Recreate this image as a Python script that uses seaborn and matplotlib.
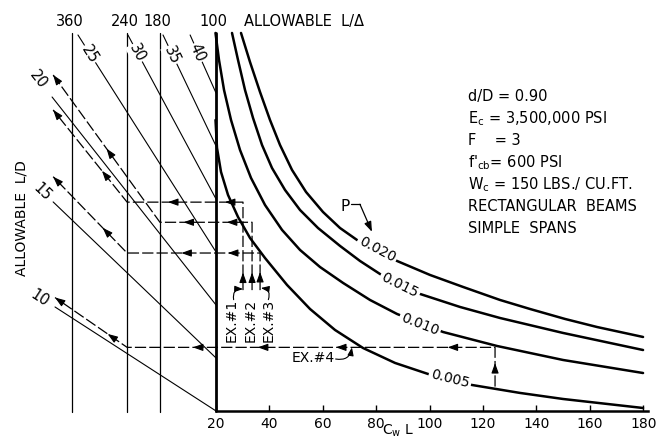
import numpy as np
import pandas as pd
import matplotlib
matplotlib.use("Agg")
import matplotlib.pyplot as plt
import seaborn as sns

# P curves: x = C_w L, y = height read on the L/D scale of the 100 line
p_values = ["0.020", "0.015", "0.010", "0.005"]
cwl_p020 = [29.36, 32.73, 36.48, 40.22, 43.97, 48.46, 53.71, 60.07, 66.44, 72.81, 80.30, 87.79,
            100.15, 112.51, 126.37, 137.60, 150.71, 162.70, 179.93]
y_p020 = [45.66, 42.92, 40.09, 37.45, 35.09, 32.74, 30.66, 28.77, 27.26, 26.13, 25.09, 24.15,
          22.83, 21.70, 20.47, 19.62, 18.68, 17.92, 16.98]
cwl_p015 = [25.99, 28.24, 30.86, 33.86, 37.23, 40.97, 45.84, 51.46, 58.20, 66.44, 73.93, 81.42,
            88.91, 96.40, 111.39, 126.37, 149.96, 179.93]
y_p015 = [45.66, 43.11, 40.28, 37.64, 35.09, 32.92, 30.85, 28.96, 27.26, 25.57, 24.15, 22.92,
          21.89, 21.04, 19.81, 18.77, 17.36, 15.75]
cwl_p010 = [19.8, 21.12, 23.00, 25.62, 28.99, 33.11, 38.35, 44.72, 51.46, 58.95, 67.57, 77.68,
            87.79, 105.02, 125.24, 149.96, 179.93]
y_p010 = [45.66, 43.11, 40.28, 37.45, 34.62, 31.98, 29.43, 27.08, 25.19, 23.58, 22.08, 20.47,
          19.15, 17.45, 16.13, 14.81, 13.58]
cwl_p005 = [19.81, 20.37, 21.87, 24.49, 28.24, 32.73, 38.35, 46.59, 55.21, 64.57, 75.06, 87.04,
            99.40, 115.88, 133.86, 149.96, 179.93]
y_p005 = [37.45, 34.81, 32.55, 30.38, 28.30, 26.32, 24.43, 21.89, 19.62, 17.64, 15.94, 14.53,
          13.49, 12.45, 11.70, 11.13, 10.28]
p_label_x = [80.3, 88.9, 96.4, 107.6]
p_label_y = [25.19, 21.89, 18.2, 13.0]

# allowable L/delta vertical scales
ldelta_vals = [360, 240, 180, 100]
ldelta_x = [-33.9, -13.3, -1.0, 20.0]

# allowable L/D lines (meet the 100 line at y = L/D)
ld_vals = [10, 15, 20, 25, 30, 35, 40]
ld_start_x = [-40.3, -41.0, -41.4, -31.7, -13.0, 0.15, 10.3]
ld_start_y = [19.81, 29.72, 39.62, 45.47, 45.47, 45.47, 45.47]
ld_label_x = [-45.9, -45.2, -46.7, -27.2, -9.6, 3.5, 12.9]
ld_label_y = [20.66, 30.66, 41.23, 43.68, 43.77, 43.58, 43.77]

# worked examples
ex_names = ["EX.#1", "EX.#2", "EX.#3", "EX.#4"]
ex_cwl = [30.1, 33.5, 36.5, 124.5]
ex_base = [21.4, 21.4, 21.4, 12.3]
ex_level = [29.7, 27.8, 24.9, 16.0]
ex_ldelta = [240, 180, 240, 240]
ex_end_x = [-41.0, -41.0, -41.0, -40.3]
ex_end_y = [38.4, 41.7, 32.1, 20.7]

notes = ["d/D = 0.90", "E$_c$ = 3,500,000 PSI", "F    = 3", "f$'_{cb}$= 600 PSI",
         "W$_c$ = 150 LBS./ CU.FT.", "RECTANGULAR  BEAMS", "SIMPLE  SPANS"]

sns.set_theme(style="white", rc={"text.color": "black", "xtick.color": "black",
                                 "axes.edgecolor": "black"})
plt.rcParams["font.family"] = ["DejaVu Sans"]
plt.rcParams["mathtext.default"] = "regular"

fig = plt.figure(figsize=(6.63, 4.47), dpi=100)
ax = fig.add_axes([0, 0, 1, 1])
ax.set_xlim(-60.9, 187.4)
ax.set_ylim(6.6, 48.77)

curves = pd.concat([
    pd.DataFrame({"cwl": cwl_p020, "y": y_p020, "P": "0.020"}),
    pd.DataFrame({"cwl": cwl_p015, "y": y_p015, "P": "0.015"}),
    pd.DataFrame({"cwl": cwl_p010, "y": y_p010, "P": "0.010"}),
    pd.DataFrame({"cwl": cwl_p005, "y": y_p005, "P": "0.005"}),
])
sns.lineplot(data=curves, x="cwl", y="y", hue="P", units="P", estimator=None, sort=False,
             palette=["black"] * 4, linewidth=1.8, legend=False, ax=ax)


def screen_angle(p0, p1):
    d0 = ax.transData.transform(p0)
    d1 = ax.transData.transform(p1)
    return np.degrees(np.arctan2(d1[1] - d0[1], d1[0] - d0[0]))


def head(tip, p0, p1, size=7):
    d0 = ax.transData.transform(p0)
    d1 = ax.transData.transform(p1)
    u = (d1 - d0) / np.hypot(*(d1 - d0))
    ax.annotate("", xy=tip, xytext=(-u[0] * size, -u[1] * size), textcoords="offset pixels",
                arrowprops=dict(arrowstyle="-|>,head_length=0.5,head_width=0.18", color="black",
                                lw=0.8, shrinkA=0, shrinkB=0, mutation_scale=12), zorder=5)


def mid_head(p0, p1, frac):
    tip = (p0[0] + frac * (p1[0] - p0[0]), p0[1] + frac * (p1[1] - p0[1]))
    head(tip, p0, p1)


# P labels on the curves
curve_sets = [(cwl_p020, y_p020), (cwl_p015, y_p015), (cwl_p010, y_p010), (cwl_p005, y_p005)]
for lab, lx, ly, (cx, cy) in zip(p_values, p_label_x, p_label_y, curve_sets):
    ang = screen_angle((lx - 6, np.interp(lx - 6, cx, cy)), (lx + 6, np.interp(lx + 6, cx, cy)))
    ax.text(lx, ly, lab, rotation=ang, rotation_mode="anchor", ha="center", va="center",
            fontsize=10, zorder=6, bbox=dict(facecolor="white", edgecolor="none", pad=1.5))

ax.text(68.3, 29.25, "P", ha="center", va="center", fontsize=11)
ax.plot([70.6, 73.9], [29.5, 29.5], color="black", lw=0.9)
ax.annotate("", xy=(78.4, 26.9), xytext=(73.9, 29.5),
            arrowprops=dict(arrowstyle="-|>,head_length=0.5,head_width=0.18", color="black",
                            lw=0.9, shrinkA=0, shrinkB=0, mutation_scale=12))

# L/delta verticals
for val, x in zip(ldelta_vals, ldelta_x):
    thick = val == 100
    ax.plot([x, x], [45.66, 10.0 if thick else 9.9], color="black", lw=2.0 if thick else 0.9)
    ax.text(x - 0.8, 46.7, str(val), ha="center", va="center", fontsize=10.5)
ax.text(30.6, 46.7, "ALLOWABLE  L/Δ", ha="left", va="center", fontsize=10.5)

# L/D lines
for val, sx, sy, lx, ly in zip(ld_vals, ld_start_x, ld_start_y, ld_label_x, ld_label_y):
    ax.plot([sx, 20.0], [sy, val], color="black", lw=0.8)
    ang = screen_angle((sx, sy), (20.0, val))
    ax.text(lx, ly, str(val), rotation=ang, rotation_mode="anchor", ha="center", va="center",
            fontsize=10.5, zorder=6, bbox=dict(facecolor="white", edgecolor="none", pad=0.5))
ax.text(-53.0, 28.2, "ALLOWABLE  L/D", rotation=90, ha="center", va="center", fontsize=10)

# worked example paths
ld_pos = dict(zip(ldelta_vals, ldelta_x))
up_frac = [0.2, 0.26, 0.49, 0.6]
right_fracs = [[0.67], [0.7], [0.73], [0.17, 0.57, 0.85]]
left_fracs = [[0.54], [0.58], [0.39], [0.26]]
diag_frac = [0.34, 0.5, 0.33, 0.27]
for i in range(4):
    lx = ld_pos[ex_ldelta[i]]
    pts = [(ex_cwl[i], ex_base[i]), (ex_cwl[i], ex_level[i]), (20.0, ex_level[i]),
           (lx, ex_level[i]), (ex_end_x[i], ex_end_y[i])]
    ax.plot([p[0] for p in pts], [p[1] for p in pts], color="black", lw=0.9,
            linestyle=(0, (9, 2.5)))
    mid_head(pts[0], pts[1], up_frac[i])
    for f in right_fracs[i]:
        mid_head(pts[1], pts[2], f)
    for f in left_fracs[i]:
        mid_head(pts[2], pts[3], f)
    mid_head(pts[3], pts[4], diag_frac[i])
    head(pts[4], pts[3], pts[4])

for name, x in zip(ex_names[:3], [26.0, 33.1, 39.85]):
    ax.text(x, 20.6, name, rotation=90, ha="center", va="top", fontsize=10)
arc = dict(arrowstyle="-|>,head_length=0.4,head_width=0.15", color="black", lw=0.8,
           shrinkA=0, shrinkB=0, mutation_scale=12)
ax.annotate("", xy=(30.1, 21.5), xytext=(26.6, 20.5),
            arrowprops=dict(arc, connectionstyle="arc3,rad=-0.6"))
ax.annotate("", xy=(36.8, 21.6), xytext=(39.6, 20.5),
            arrowprops=dict(arc, connectionstyle="arc3,rad=0.6"))
ax.text(56.3, 15.0, ex_names[3], ha="center", va="center", fontsize=10)
ax.annotate("", xy=(70.9, 16.0), xytext=(64.8, 14.9),
            arrowprops=dict(arc, connectionstyle="arc3,rad=0.5"))

# notes
for k, line in enumerate(notes):
    ax.text(114.4, 39.62 - k * 2.06, line, ha="left", va="center", fontsize=10.5)

# x axis
for side in ["left", "right", "top"]:
    ax.spines[side].set_visible(False)
ax.spines["bottom"].set_position(("data", 10))
ax.spines["bottom"].set_bounds(20, 181.8)
ax.spines["bottom"].set_linewidth(1.8)
ax.set_xticks(range(20, 181, 20))
ax.set_yticks([])
ax.tick_params(axis="x", bottom=True, direction="in", length=4, width=1, pad=4, labelsize=10)
ax.set_xlabel("")
ax.set_ylabel("")
ax.text(88.2, 8.1, "C$_w$ L", ha="center", va="center", fontsize=10)

fig.savefig("out.png", dpi=100)
